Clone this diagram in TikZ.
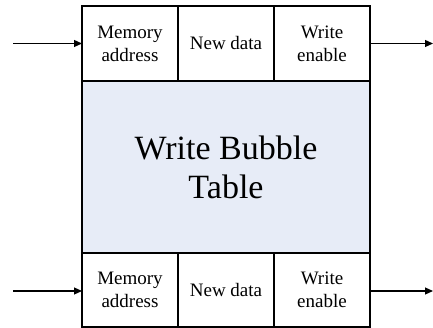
\documentclass[tikz,border=0pt]{standalone}
\usepackage{fontspec}
\setmainfont{Liberation Serif}
\usetikzlibrary{positioning,arrows.meta}
\definecolor{bubblefill}{RGB}{231,236,247}

\begin{document}
\begin{tikzpicture}[x=1pt,y=-1pt,
    cell/.style={draw, line width=1.5pt, minimum width=96pt, minimum height=75pt,
      inner sep=0pt, outer sep=0pt, align=center, font=\fontsize{19}{23}\selectfont},
    bubbletable/.style={draw, line width=1.5pt, fill=bubblefill, minimum width=288pt,
      minimum height=172pt, inner sep=0pt, outer sep=0pt, align=center,
      font=\fontsize{34}{39}\selectfont},
    flow/.style={line width=1.2pt, -{Triangle[length=8pt,width=7pt]}}]
    \useasboundingbox (0,0) rectangle (433,328);
    % top row
    \node[cell] (addrtop) at (130,43.5) {Memory\\address};
    \node[cell, right=0pt of addrtop] (datatop) {New data};
    \node[cell, right=0pt of datatop] (entop) {Write\\enable};
    % table body
    \node[bubbletable, anchor=north west] (wbt) at (addrtop.south west) {Write Bubble\\Table};
    % bottom row
    \node[cell, anchor=north west, minimum height=74pt] (addrbot) at (wbt.south west) {Memory\\address};
    \node[cell, right=0pt of addrbot, minimum height=74pt] (databot) {New data};
    \node[cell, right=0pt of databot, minimum height=74pt] (enbot) {Write\\enable};
    % arrows
    \coordinate (intop) at (13,43.5);
    \coordinate (outtop) at (433,43.5);
    \coordinate (inbot) at (13,291);
    \coordinate (outbot) at (433,291);
    \draw[flow] (intop) -- (addrtop.west);
    \draw[flow] (entop.east) -- (outtop);
    \draw[flow] (inbot) -- (addrbot.west |- inbot);
    \draw[flow] (enbot.east |- outbot) -- (outbot);
\end{tikzpicture}
\end{document}
